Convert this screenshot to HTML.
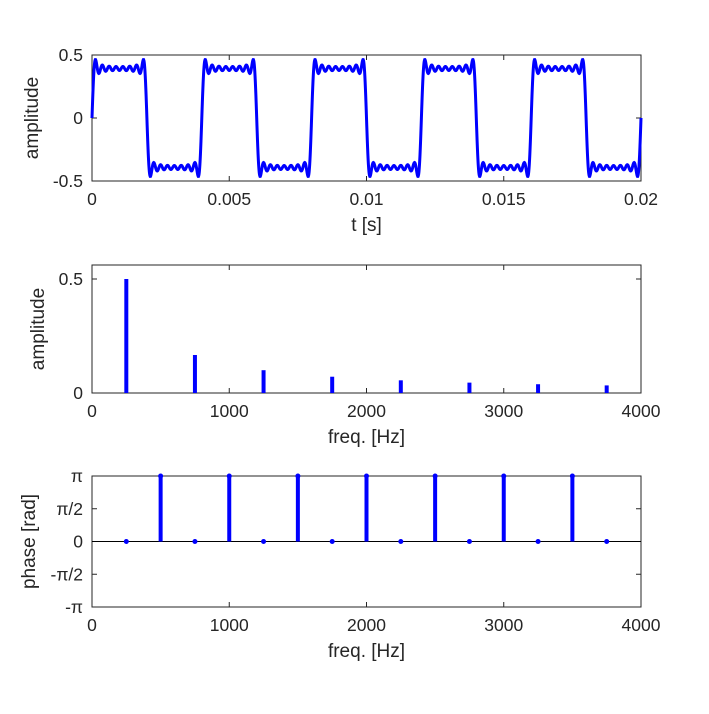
<!DOCTYPE html>
<html><head><meta charset="utf-8"><style>
body{margin:0;background:#fff;}
svg text{font-family:"Liberation Sans",sans-serif;fill:#262626;}
</style></head><body>
<svg id="fig" width="709" height="709" xmlns="http://www.w3.org/2000/svg"></svg>
<script>
const harmonicFreqs=[250,750,1250,1750,2250,2750,3250,3750];
const harmonicAmps=[0.5,0.1667,0.1,0.0714,0.0556,0.0455,0.0385,0.0333];
const phaseFreqs=[250,500,750,1000,1250,1500,1750,2000,2250,2500,2750,3000,3250,3500,3750];
const phaseVals=[0,3.1416,0,3.1416,0,3.1416,0,3.1416,0,3.1416,0,3.1416,0,3.1416,0];
const t1Ticks=[0,0.005,0.01,0.015,0.02];
const t1Labels=["0","0.005","0.01","0.015","0.02"];
const y1Ticks=[-0.5,0,0.5];
const y1Labels=["-0.5","0","0.5"];
const fTicks=[0,1000,2000,3000,4000];
const fLabels=["0","1000","2000","3000","4000"];
const y2Ticks=[0,0.5];
const y2Labels=["0","0.5"];
const y3Ticks=[-Math.PI,-Math.PI/2,0,Math.PI/2,Math.PI];
const y3Labels=["-\u03c0","-\u03c0/2","0","\u03c0/2","\u03c0"];

const NS="http://www.w3.org/2000/svg";
const svg=document.getElementById('fig');
function mk(tag,attrs,parent){const e=document.createElementNS(NS,tag);for(const k in attrs)e.setAttribute(k,attrs[k]);(parent||svg).appendChild(e);return e;}
function axes(name,x0,x1,y0,y1,xd,yd,xt,xl,yt,yl,xlabel,ylabel,ytx){
  const g=mk('g',{});
  
  
  const sx=v=>x0+(v-xd[0])/(xd[1]-xd[0])*(x1-x0);
  const sy=v=>y1-(v-yd[0])/(yd[1]-yd[0])*(y1-y0);
  const r=mk('rect',{x:x0,y:y0,width:x1-x0,height:y1-y0,fill:'#fff',stroke:'#262626','stroke-width':1},g);
  
  
  xt.forEach((v,i)=>{const x=sx(v);
    mk('line',{x1:x,x2:x,y1:y1,y2:y1-5,stroke:'#262626'},g);mk('line',{x1:x,x2:x,y1:y0,y2:y0+5,stroke:'#262626'},g);
    const t=mk('text',{x:x,y:y1+24,'font-size':17.5,'text-anchor':'middle'},g);t.textContent=xl[i];
    
    });
  yt.forEach((v,i)=>{const y=sy(v);
    mk('line',{x1:x0,x2:x0+5,y1:y,y2:y,stroke:'#262626'},g);mk('line',{x1:x1,x2:x1-5,y1:y,y2:y,stroke:'#262626'},g);
    const t=mk('text',{x:x0-9,y:y+6,'font-size':17.5,'text-anchor':'end'},g);t.textContent=yl[i];
    
    });
  const xl2=mk('text',{x:(x0+x1)/2,y:y1+50,'font-size':19,'text-anchor':'middle'},g);xl2.textContent=xlabel;
  
  
  const cy=(y0+y1)/2;
  const yl2=mk('text',{x:0,y:0,'font-size':19,'text-anchor':'middle',transform:`translate(${ytx},${cy}) rotate(-90)`},g);yl2.textContent=ylabel;
  
  
  return {g,sx,sy};
}
const a1=axes('time-axes',92,641,55,181,[0,0.02],[-0.5,0.5],t1Ticks,t1Labels,y1Ticks,y1Labels,'t [s]','amplitude',38);
let d='';
for(let i=0;i<=2000;i++){const t=0.02*i/2000;let s=0;harmonicFreqs.forEach((f,k)=>{s+=harmonicAmps[k]*Math.sin(2*Math.PI*f*t);});
 d+=(i?'L':'M')+a1.sx(t).toFixed(2)+','+a1.sy(s).toFixed(2);}
const sig=mk('path',{d:d,fill:'none',stroke:'#0000ff','stroke-width':3},a1.g);


const a2=axes('amplitude-axes',92,641,265,393,[0,4000],[0,0.5614],fTicks,fLabels,y2Ticks,y2Labels,'freq. [Hz]','amplitude',44);
harmonicFreqs.forEach((f,k)=>{const b=mk('line',{x1:a2.sx(f),x2:a2.sx(f),y1:a2.sy(0),y2:a2.sy(harmonicAmps[k]),stroke:'#0000ff','stroke-width':4},a2.g);
 
 });
const a3=axes('phase-axes',92,641,476,607,[0,4000],[-Math.PI,Math.PI],fTicks,fLabels,y3Ticks,y3Labels,'freq. [Hz]','phase [rad]',35);
mk('line',{x1:92,x2:641,y1:a3.sy(0),y2:a3.sy(0),stroke:'#000','stroke-width':1},a3.g);
phaseFreqs.forEach((f,k)=>{const x=a3.sx(f),y=a3.sy(phaseVals[k]);
 const b=mk('line',{x1:x,x2:x,y1:a3.sy(0),y2:y,stroke:'#0000ff','stroke-width':4},a3.g);
 
 
 const c=mk('circle',{cx:x,cy:y,r:2.5,fill:'#0000ff'},a3.g);
 
 });
</script>
</body></html>
